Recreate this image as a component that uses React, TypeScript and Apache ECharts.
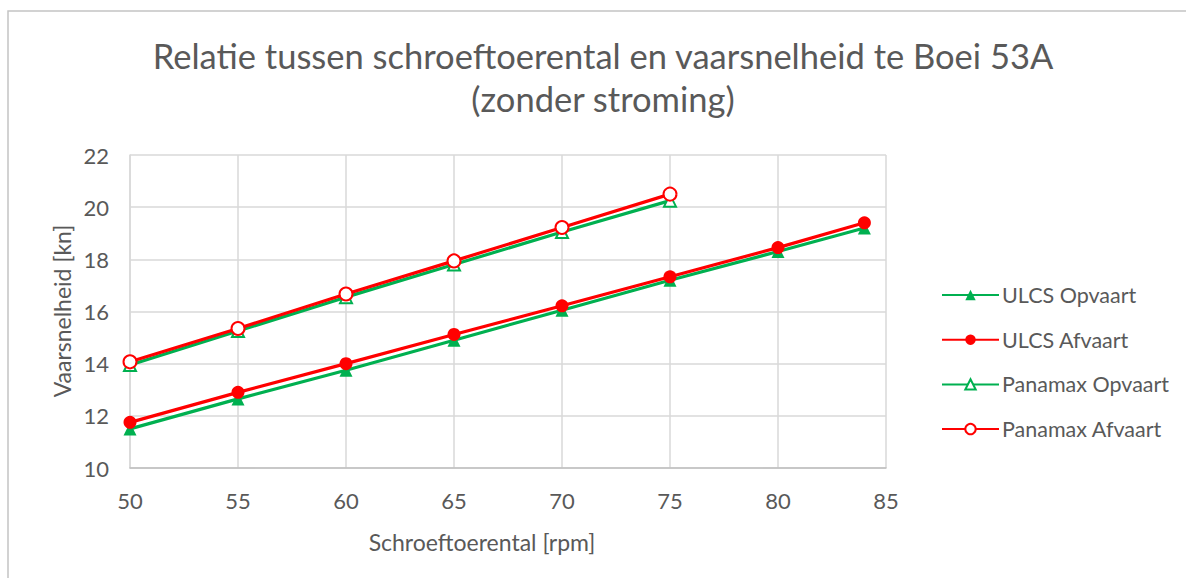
import React, { useEffect, useRef } from "react";
import * as echarts from "echarts";

// Propeller speed (rpm) per ship type
const rpmULCS = [50, 55, 60, 65, 70, 75, 80, 84];
const rpmPanamax = [50, 55, 60, 65, 70, 75];

// Vessel speed through water (kn)
const ulcsOpvaart = [11.5, 12.65, 13.75, 14.9, 16.05, 17.2, 18.3, 19.2];
const ulcsAfvaart = [11.75, 12.9, 14.0, 15.12, 16.22, 17.33, 18.45, 19.4];
const panamaxOpvaart = [13.95, 15.25, 16.55, 17.8, 19.05, 20.25];
const panamaxAfvaart = [14.07, 15.35, 16.67, 17.94, 19.22, 20.5];

const seriesNames = ["ULCS Opvaart", "ULCS Afvaart", "Panamax Opvaart", "Panamax Afvaart"];
const titleLines = ["Relatie tussen schroeftoerental en vaarsnelheid te Boei 53A", "(zonder stroming)"];
const xAxisTitle = "Schroeftoerental [rpm]";
const yAxisTitle = "Vaarsnelheid [kn]";

const GREEN = "#00b050";
const RED = "#ff0000";
const TEXT = "#595959";
const FONT = "Lato";

const pair = (xs: number[], ys: number[]) => xs.map((x, i) => [x, ys[i]]);

export default function App() {
  const ref = useRef<HTMLDivElement>(null);

  useEffect(() => {
    if (!ref.current) return;
    const chart = echarts.init(ref.current, undefined, { renderer: "svg" });

    const lineSeries = (
      name: string,
      data: number[][],
      color: string,
      symbol: string,
      size: number
    ) => ({
      name,
      type: "line",
      data,
      symbol,
      symbolSize: size,
      showAllSymbol: true,
      lineStyle: { color, width: 3.2 },
      itemStyle: { color, borderColor: color, borderWidth: symbol.startsWith("empty") ? 1.6 : 0 },
      z: 3,
    });

    const text = (t: string, x: number, y: number, size: number, rotation = 0) => ({
      type: "text",
      x,
      y,
      rotation,
      style: {
        text: t,
        fontFamily: FONT,
        fontSize: size,
        fill: TEXT,
        align: "center",
        verticalAlign: "middle",
      },
    });

    chart.setOption({
      animation: false,
      backgroundColor: "#ffffff",
      textStyle: { fontFamily: FONT },
      graphic: [
        {
          type: "rect",
          shape: { x: 8, y: 11, width: 1200, height: 600 },
          style: { fill: "none", stroke: "#c4c4c4", lineWidth: 1.5 },
          silent: true,
        },
        text(titleLines[0], 603, 55, 34.5),
        text(titleLines[1], 603, 98, 34.5),
        text(xAxisTitle, 482, 542, 23),
        text(yAxisTitle, 62, 311, 23, Math.PI / 2),
      ],
      grid: { left: 130, right: 300, top: 155, bottom: 110, containLabel: false },
      legend: {
        orient: "vertical",
        left: 936,
        top: 278,
        itemWidth: 57,
        itemHeight: 13,
        itemGap: 20.7,
        data: seriesNames,
        textStyle: { fontFamily: FONT, fontSize: 21.5, color: TEXT, lineHeight: 24, padding: [0, 0, 0, -2] },
      },
      xAxis: {
        type: "value",
        min: 50,
        max: 85,
        interval: 5,
        axisLine: { show: true, lineStyle: { color: "#bfbfbf", width: 1.5 } },
        axisTick: { show: false },
        axisLabel: { fontFamily: FONT, fontSize: 22, color: TEXT, margin: 21 },
        splitLine: { show: true, lineStyle: { color: "#d9d9d9", width: 1.5 } },
      },
      yAxis: {
        type: "value",
        min: 10,
        max: 22,
        interval: 2,
        axisLine: { show: true, lineStyle: { color: "#d9d9d9", width: 1.5 } },
        axisTick: { show: false },
        axisLabel: { fontFamily: FONT, fontSize: 22, color: TEXT, margin: 21 },
        splitLine: { show: true, lineStyle: { color: "#d9d9d9", width: 1.5 } },
      },
      series: [
        lineSeries(seriesNames[0], pair(rpmULCS, ulcsOpvaart), GREEN, "triangle", 13),
        lineSeries(seriesNames[1], pair(rpmULCS, ulcsAfvaart), RED, "circle", 13),
        lineSeries(seriesNames[2], pair(rpmPanamax, panamaxOpvaart), GREEN, "emptyTriangle", 12),
        lineSeries(seriesNames[3], pair(rpmPanamax, panamaxAfvaart), RED, "emptyCircle", 13),
      ],
    });

    return () => chart.dispose();
  }, []);

  return (
    <div
      ref={ref}
      style={{ position: "fixed", left: 0, top: 0, width: 1186, height: 578, background: "#fff" }}
    />
  );
}
